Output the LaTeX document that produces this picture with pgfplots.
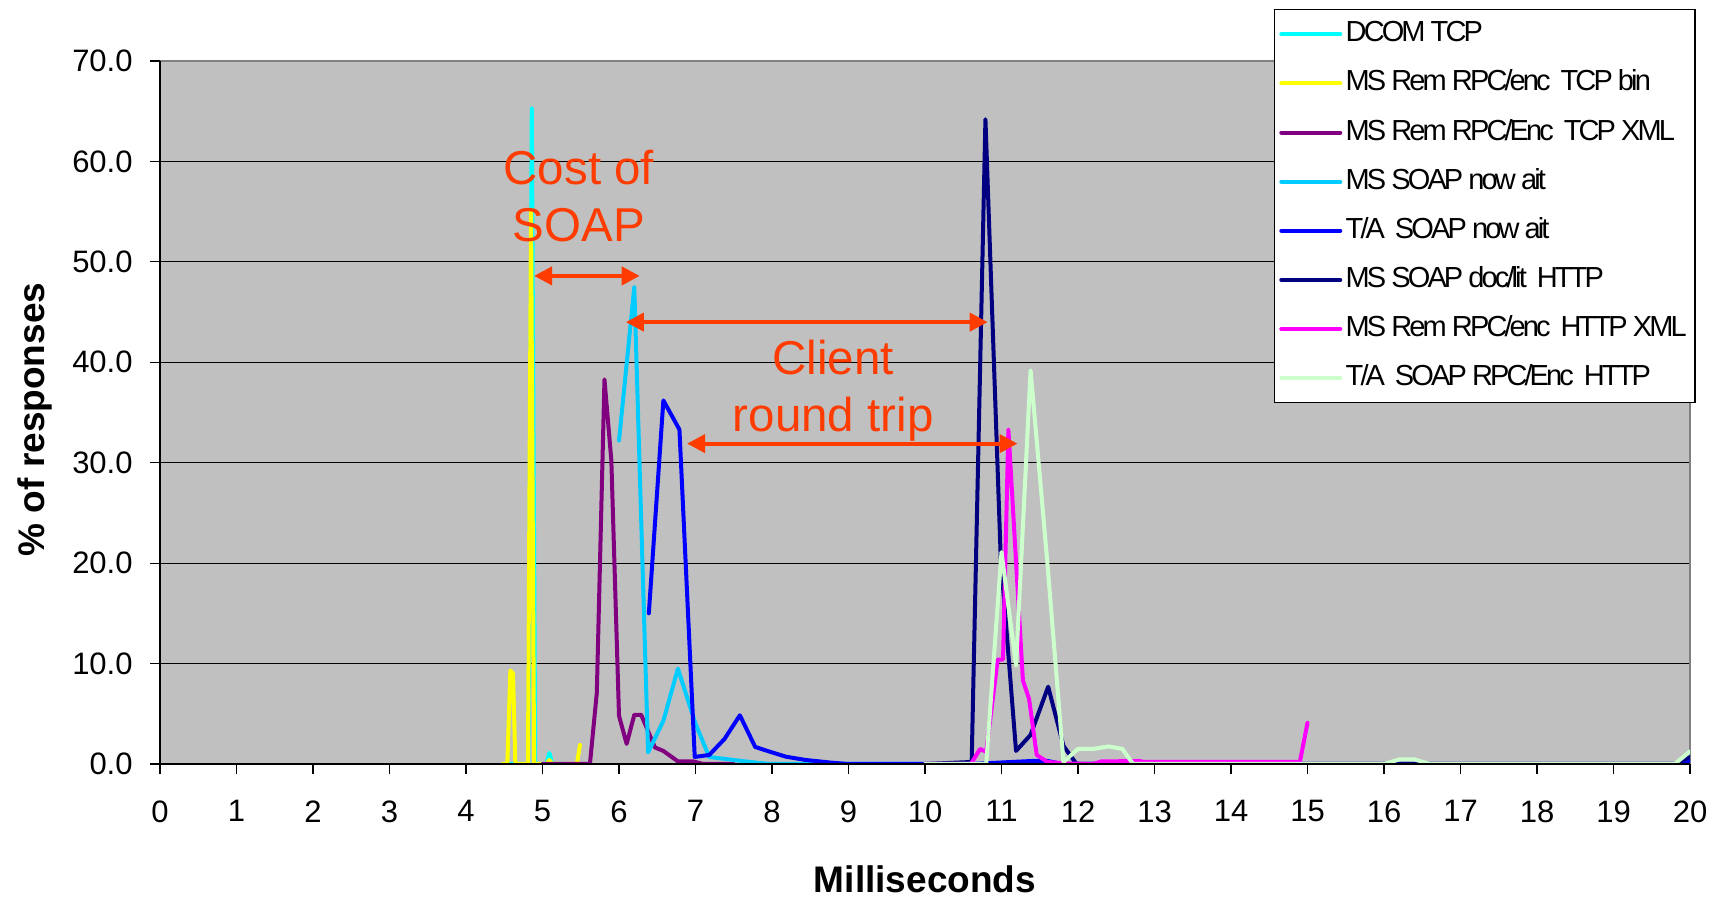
\documentclass[border=0pt]{standalone}
\usepackage{fontspec}
\setmainfont{Liberation Sans}
\newfontfamily\legfont[LetterSpace=-10.0]{Liberation Sans}
\usepackage{pgfplots}
\pgfplotsset{compat=1.18}
\usetikzlibrary{arrows.meta}

\definecolor{plotbg}{RGB}{192,192,192}
\definecolor{framegray}{RGB}{128,128,128}
\definecolor{dcom}{RGB}{0,255,255}
\definecolor{remtcpbin}{RGB}{255,255,0}
\definecolor{remtcpxml}{RGB}{128,0,128}
\definecolor{mssoap}{RGB}{0,204,255}
\definecolor{tasoap}{RGB}{0,0,255}
\definecolor{msdoclit}{RGB}{0,0,128}
\definecolor{remhttp}{RGB}{255,0,255}
\definecolor{tarpc}{RGB}{204,255,204}
\definecolor{note}{RGB}{255,60,0}

\tikzset{
  notearrow/.style={note, line width=2pt,
    {Triangle[length=9pt,width=9pt]}-{Triangle[length=9pt,width=9pt]}},
  notetext/.style={anchor=base, text=note, inner sep=0pt,
    font=\fontsize{23.75}{28}\selectfont},
}

\begin{document}
\begin{tikzpicture}[x=1pt,y=1pt]
\useasboundingbox (0,0) rectangle (859.5,449);
\begin{axis}[
  at={(80pt,67pt)}, anchor=south west,
  scale only axis, width=765pt, height=351.5pt,
  xmin=0, xmax=20, ymin=0, ymax=70,
  xtick={0,1,...,20}, ytick={0,10,...,70},
  tick pos=left, tick align=outside, major tick length=5pt,
  tick style={black, line width=0.6pt},
  ymajorgrids, grid style={black, line width=0.6pt},
  axis background/.style={fill=plotbg},
  axis line style={draw=none},
  clip mode=individual,
  /pgf/number format/assume math mode=true,
  ticklabel style={font=\fontsize{15.5}{18}\selectfont, inner sep=0pt},
  xticklabel style={anchor=north, yshift=-13pt},
  yticklabel style={anchor=east, xshift=-8.5pt,
    /pgf/number format/fixed, /pgf/number format/fixed zerofill,
    /pgf/number format/precision=1},
  xlabel={Milliseconds},
  ylabel={\% of responses},
  every axis x label/.style={at={(axis description cs:0.5,-0.1634)},
    anchor=center, font=\bfseries\fontsize{18.5}{22}\selectfont},
  every axis y label/.style={at={(axis description cs:-0.0817,0.49)},
    rotate=90, anchor=center, font=\bfseries\fontsize{18.5}{22}\selectfont},
  every axis plot/.append style={line width=2pt, line join=round,
    line cap=round, mark=none},
  legend cell align=left,
  legend image code/.code={\draw[#1] (1pt,0pt) -- (30.5pt,0pt);},
  legend style={at={(axis description cs:1.0037,1.0737)}, anchor=north east,
    draw=black, line width=0.6pt, fill=white,
    font=\legfont\fontsize{14.5}{16}\selectfont,
    inner xsep=2.5pt, inner ysep=0pt, row sep=0pt,
    nodes={inner xsep=1.7pt, inner ysep=0pt, text height=10.5pt,
      text depth=3pt, minimum height=24.55pt}},
]
% plot area frame: grey top and right edges
\draw[framegray, line width=1pt] (rel axis cs:0,1) -- (rel axis cs:1,1) -- (rel axis cs:1,0);

\addplot[dcom] coordinates {
  (4.5,0) (4.815,0) (4.86,65.3) (4.905,0) (5.05,0) (5.09,1.1) (5.13,0) (5.3,0)
};
\addlegendentry{DCOM TCP}

\addplot[remtcpbin] coordinates {
  (4.48,0) (4.54,0) (4.58,9.3) (4.615,9.0) (4.645,0) (4.81,0) (4.85,55.2)
  (4.89,0) (5.05,0) (5.09,0.4) (5.13,0) (5.45,0) (5.49,1.9)
};
\addlegendentry{MS Rem RPC/enc\, TCP bin}

\addplot[remtcpxml] coordinates {
  (5.0,0) (5.62,0) (5.71,7.1) (5.81,38.3) (5.9,30.2) (6.0,4.8) (6.1,2.0)
  (6.2,4.9) (6.29,4.9) (6.47,1.65) (6.58,1.3) (6.77,0.26) (6.97,0.26)
  (7.1,0) (7.5,0)
};
\addlegendentry{MS Rem RPC/Enc\, TCP XML}

\addplot[mssoap] coordinates {
  (6.0,32.2) (6.2,47.5) (6.38,1.15) (6.58,4.3) (6.77,9.5) (7.0,4.0)
  (7.18,0.7) (7.57,0.33) (7.83,0.1) (8.0,0) (10.0,0)
};
\addlegendentry{MS SOAP now ait}

\addplot[tasoap] coordinates {
  (6.39,15.0) (6.58,36.2) (6.79,33.3) (6.99,0.7) (7.18,0.9) (7.38,2.5)
  (7.58,4.85) (7.78,1.7) (7.96,1.25) (8.18,0.73) (8.44,0.4) (8.78,0.13)
  (9.0,0) (10.6,0) (11.0,0.15) (11.4,0.3) (11.6,0.3) (11.8,0) (19.8,0)
  (20,0.35)
};
\addlegendentry{T/A\, SOAP now ait}

\addplot[msdoclit] coordinates {
  (10.0,0) (10.61,0.2) (10.79,64.2) (10.99,20.5) (11.19,1.3) (11.38,2.9)
  (11.61,7.7) (11.81,1.8) (11.98,0) (19.8,0) (20,0.7)
};
\addlegendentry{MS SOAP doc/lit\, HTTP}

\addplot[remhttp] coordinates {
  (10.0,0) (10.6,0) (10.72,1.5) (10.8,1.2) (10.95,10.4) (11.02,10.4)
  (11.09,33.3) (11.28,8.3) (11.36,6.5) (11.46,0.9) (11.6,0.2) (11.85,0.05)
  (12.2,0) (12.3,0.25) (12.8,0.3) (12.87,0.2) (14.9,0.2) (15.0,4.1)
};
\addlegendentry{MS Rem RPC/enc\, HTTP XML}

\addplot[tarpc] coordinates {
  (10.0,0) (10.8,0) (11.0,21.1) (11.19,9.8) (11.38,39.2) (11.6,20.0)
  (11.81,0.2) (12.0,1.5) (12.2,1.5) (12.4,1.75) (12.58,1.5) (12.72,0)
  (16.0,0) (16.2,0.45) (16.4,0.45) (16.6,0) (19.8,0) (20,1.25)
};
\addlegendentry{T/A\, SOAP RPC/Enc\, HTTP}

% black value and category axis lines
\draw[black, line width=1pt] (rel axis cs:0,1) -- (rel axis cs:0,0) -- (rel axis cs:1,0);

% annotations
\node[notetext] at (axis cs:5.475,57.7) {Cost of};
\node[notetext] at (axis cs:5.475,52.0) {SOAP};
\node[notetext] at (axis cs:8.8,38.8) {Client};
\node[notetext] at (axis cs:8.8,33.1) {round trip};
\draw[notearrow] (axis cs:4.89,48.6) -- (axis cs:6.27,48.6);
\draw[notearrow] (axis cs:6.09,44.0) -- (axis cs:10.82,44.0);
\draw[notearrow] (axis cs:6.89,31.9) -- (axis cs:11.21,31.9);
\end{axis}
\end{tikzpicture}
\end{document}
